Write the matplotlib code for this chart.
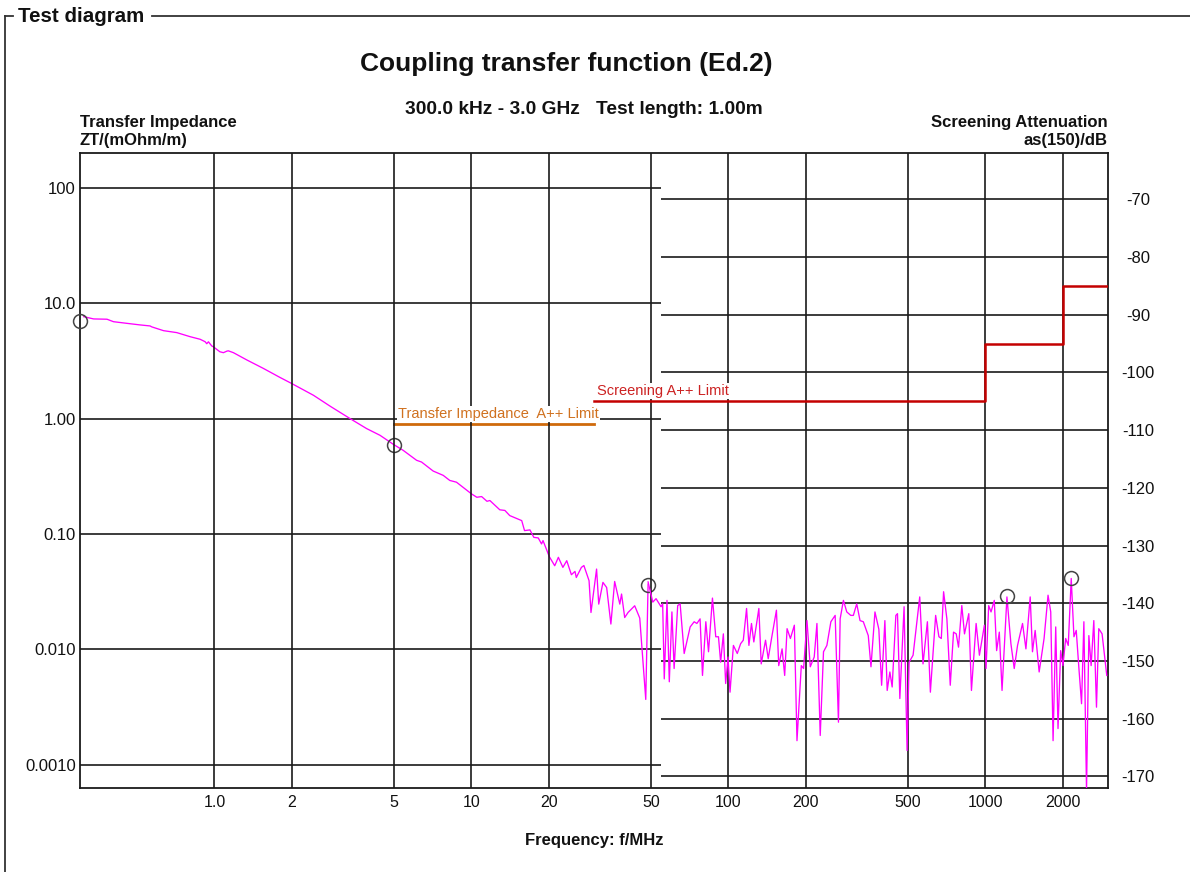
import matplotlib
matplotlib.use('Agg')
import matplotlib.pyplot as plt
from matplotlib.lines import Line2D
from matplotlib.ticker import NullLocator

plt.rcParams['font.family'] = ['Liberation Sans', 'DejaVu Sans']

# ---------------- data ----------------
# Transfer impedance (mOhm/m), low-frequency part (left log axis)
zt_freq = [0.31, 0.339, 0.382, 0.405, 0.456, 0.514, 0.562, 0.571, 0.634, 0.714,
           0.804, 0.880, 0.920, 0.934, 0.948, 0.977, 0.99, 1.05, 1.084, 1.12,
           1.133, 1.186, 1.34, 1.55, 1.80, 2.00, 2.43, 2.82, 3.37, 3.91,
           4.41, 4.97, 5.43, 6.12, 6.40, 7.10, 7.77, 8.24, 8.75, 10.0,
           10.5, 10.96, 11.5, 11.8, 12.9, 13.5, 14.1, 15.7, 16.1, 16.9,
           17.5, 18.2, 18.75, 19.0, 20.1, 21.1, 21.8, 22.7, 23.5, 24.5,
           25.3, 25.6, 26.8, 27.4, 28.7, 29.2, 30.7, 31.3, 32.5, 33.6,
           34.9, 36.1, 37.8, 38.4, 39.5, 40.7, 43.2, 45.2, 47.7, 48.7]
zt_vals = [7.63, 7.29, 7.25, 6.90, 6.68, 6.47, 6.34, 6.22, 5.77, 5.55,
           5.12, 4.86, 4.63, 4.45, 4.62, 4.25, 4.19, 3.79, 3.72, 3.84,
           3.86, 3.72, 3.21, 2.72, 2.27, 2.01, 1.59, 1.28, 1.00, 0.819,
           0.716, 0.598, 0.530, 0.435, 0.420, 0.351, 0.322, 0.291, 0.281, 0.223,
           0.208, 0.211, 0.192, 0.195, 0.162, 0.160, 0.1444, 0.1306, 0.107, 0.1085,
           0.0935, 0.0925, 0.082, 0.0877, 0.0637, 0.0531, 0.0628, 0.0514, 0.0587, 0.0444,
           0.0474, 0.042, 0.0514, 0.0533, 0.0394, 0.0209, 0.0497, 0.0247, 0.0381, 0.0344,
           0.0166, 0.0388, 0.0247, 0.0302, 0.0189, 0.0209, 0.0239, 0.0187, 0.00369, 0.0368]

# Screening attenuation (dB), high-frequency part (right linear axis)
as_freq = [48.7, 50.8, 52.3, 54.7, 55.5, 56.3, 57.7, 58.9, 60.3, 61.5,
           63.5, 64.9, 67.3, 71.0, 73.6, 75.4, 77.6, 79.3, 81.7, 83.7,
           86.7, 89.3, 91.5, 93.3, 95.6, 97.6, 99.7, 101.5, 104.6, 108.3,
           111.6, 114.3, 117.7, 120.2, 123.0, 125.6, 131.4, 134.2, 139.5, 142.9,
           147.2, 153.8, 157.0, 161.8, 165.6, 169.2, 174.3, 180.6, 184.9, 192.2,
           196.2, 202.2, 208.3, 215.8, 221.1, 227.7, 234.5, 241.7, 250.5, 260.3,
           268.1, 272.2, 280.3, 288.9, 299.4, 306.4, 315.8, 325.3, 335.0, 350.2,
           358.8, 371.8, 385.0, 394.7, 406.4, 414.9, 425.0, 433.8, 448.4, 455.0,
           464.7, 482.7, 495.8, 504.9, 523.2, 555.3, 571.9, 594.8, 610.9, 640.4,
           659.5, 673.8, 687.7, 708.3, 730.0, 751.8, 770.2, 786.1, 809.6, 829.3,
           861.8, 882.7, 920.4, 948.0, 991.1, 1006, 1030, 1052, 1083, 1106,
           1133, 1161, 1213, 1257, 1295, 1334, 1395, 1438, 1494, 1525,
           1562, 1619, 1692, 1753, 1796, 1834, 1878, 1917, 1963, 2004,
           2053, 2101, 2158, 2211, 2257, 2312, 2367, 2417, 2475, 2527,
           2579, 2642, 2706, 2762, 2845, 2967]
as_vals = [-136.3, -139.8, -139.2, -140.6, -140.1, -153.1, -139.5, -153.6, -141.5, -151.3,
           -140.4, -140.1, -148.7, -144.1, -143.2, -143.5, -142.7, -152.5, -143.2, -148.4,
           -139.1, -145.8, -145.8, -150.2, -145.3, -153.9, -149.3, -155.4, -147.3, -148.7,
           -147.0, -146.4, -140.9, -147.3, -143.5, -146.7, -140.9, -150.5, -146.4, -149.6,
           -146.1, -141.2, -150.8, -147.9, -152.5, -144.4, -146.1, -143.8, -163.8, -150.8,
           -151.3, -143.0, -151.0, -149.3, -143.5, -162.9, -148.4, -147.3, -143.2, -142.1,
           -160.6, -142.7, -139.5, -141.5, -142.1, -142.1, -140.1, -143.0, -143.2, -145.6,
           -151.0, -141.5, -144.5, -154.2, -143.0, -155.1, -151.9, -154.5, -142.1, -141.8,
           -156.5, -140.6, -165.5, -150.2, -149.0, -138.9, -150.5, -143.2, -155.4, -142.1,
           -145.8, -146.1, -138.0, -142.7, -154.2, -145.0, -145.3, -147.6, -140.4, -145.3,
           -141.8, -155.1, -143.5, -149.0, -143.8, -151.3, -140.4, -141.5, -139.5, -148.2,
           -145.0, -155.1, -138.9, -147.0, -151.3, -147.3, -143.5, -147.9, -138.9, -148.4,
           -144.7, -151.9, -146.1, -138.6, -141.5, -163.8, -144.1, -161.7, -148.2, -150.8,
           -146.1, -147.3, -135.7, -145.8, -144.7, -151.3, -157.4, -143.2, -172.5, -145.6,
           -150.8, -143.0, -158.0, -144.4, -145.3, -152.5]

# limits
zt_limit_freq = [5, 30]
zt_limit_val = [0.89, 0.89]
as_limit_freq = [30, 1000, 2000, 3000]
as_limit_val = [-105, -95, -85, -85]

# circle markers
zt_marker_freq = [0.3, 5.0, 48.7]
zt_marker_val = [7.05, 0.586, 0.036]
as_marker_freq = [1211, 2156]
as_marker_val = [-138.7, -135.6]

# ticks
x_ticks = [1, 2, 5, 10, 20, 50, 100, 200, 500, 1000, 2000]
x_tick_labels = ['1.0', '2', '5', '10', '20', '50', '100', '200', '500', '1000', '2000']
zt_ticks = [100, 10, 1, 0.1, 0.01, 0.001]
zt_tick_labels = ['100', '10.0', '1.00', '0.10', '0.010', '0.0010']
as_ticks = [-70, -80, -90, -100, -110, -120, -130, -140, -150, -160, -170]
as_tick_labels = ['-70', '-80', '-90', '-100', '-110', '-120', '-130', '-140', '-150', '-160', '-170']
grid_split_freq = 54.6

# ---------------- figure ----------------
W, H = 1190, 872
fig = plt.figure(figsize=(W / 100, H / 100), dpi=100)


def fx(px):
    return px / W


def fy(py):
    return 1 - py / H


ax = fig.add_axes([fx(80), fy(788), fx(1108) - fx(80), fy(153) - fy(788)])
ax.set_xscale('log')
ax.set_yscale('log')
ax.set_xlim(0.3, 3000)
ax.set_ylim(10 ** -3.2, 10 ** 2.3)
ax2 = ax.twinx()
ax2.set_ylim(-172, -62)

grid_kw = dict(color='#1a1a1a', lw=1.2)
# grids
ax.hlines(zt_ticks, 0.3, grid_split_freq, zorder=1, **grid_kw)
ax2.hlines(as_ticks, grid_split_freq, 3000, zorder=1, **grid_kw)
for xt in x_ticks:
    ax2.axvline(xt, zorder=1, **grid_kw)

# curves
ax.plot(zt_freq, zt_vals, color='#ff00ff', lw=0.95, zorder=3)
ax2.plot(as_freq, as_vals, color='#ff00ff', lw=0.95, zorder=3)

# limits
ax.plot(zt_limit_freq, zt_limit_val, color='#cf6a0c', lw=2.0, zorder=4)
ax2.plot(as_limit_freq, as_limit_val, color='#c40000', lw=1.8, drawstyle='steps-post', zorder=4)
bbox_w = dict(boxstyle='square,pad=0.08', fc='white', ec='none')
ax2.annotate('Transfer Impedance  A++ Limit', xy=(zt_limit_freq[0], zt_limit_val[0]),
             xycoords=ax.transData,
             xytext=(3, 2.5), textcoords='offset points', fontsize=10.5,
             color='#d0711f', ha='left', va='bottom', zorder=5, bbox=bbox_w)
ax2.annotate('Screening A++ Limit', xy=(as_limit_freq[0], as_limit_val[0]),
             xytext=(2.5, 2.5), textcoords='offset points', fontsize=10.5,
             color='#cc2222', ha='left', va='bottom', zorder=5, bbox=bbox_w)

# markers
ax.plot(zt_marker_freq, zt_marker_val, 'o', mfc='none', mec='#444444', ms=10, mew=1.1,
        zorder=6, clip_on=False)
ax2.plot(as_marker_freq, as_marker_val, 'o', mfc='none', mec='#444444', ms=10, mew=1.1,
         zorder=6, clip_on=False)

# ticks
ax.set_xticks(x_ticks, x_tick_labels)
ax.set_yticks(zt_ticks, zt_tick_labels)
ax.xaxis.set_minor_locator(NullLocator())
ax.yaxis.set_minor_locator(NullLocator())
ax2.set_yticks(as_ticks, as_tick_labels, ha='center')
ax.tick_params(axis='x', length=0, pad=5, labelsize=11.5, colors='#111111')
ax.tick_params(axis='y', length=0, pad=3, labelsize=12, colors='#111111')
ax2.tick_params(axis='y', length=0, pad=21.5, labelsize=12, colors='#111111')

for sp in ax.spines.values():
    sp.set_linewidth(1.3)
    sp.set_color('#1a1a1a')
for sp in ax2.spines.values():
    sp.set_visible(False)

# texts
txt = '#111111'
fig.text(fx(566), fy(64), 'Coupling transfer function (Ed.2)', ha='center', va='center',
         fontsize=19, fontweight='bold', color=txt)
fig.text(fx(584), fy(110), '300.0 kHz - 3.0 GHz   Test length: 1.00m', ha='center', va='center',
         fontsize=13.8, fontweight='bold', color=txt)
fig.text(fx(80), fy(122), 'Transfer Impedance', ha='left', va='center',
         fontsize=12, fontweight='bold', color=txt)
fig.text(fx(80), fy(141), 'ZT/(mOhm/m)', ha='left', va='center',
         fontsize=12, fontweight='bold', color=txt)
fig.text(fx(1108), fy(122), 'Screening Attenuation', ha='right', va='center',
         fontsize=12, fontweight='bold', color=txt)
fig.text(fx(1108), fy(141), 'as(150)/dB', ha='right', va='center',
         fontsize=12, fontweight='bold', color=txt)
fig.text(fx(594), fy(840), 'Frequency: f/MHz', ha='center', va='center',
         fontsize=12, fontweight='bold', color=txt)

# group box
box_kw = dict(transform=fig.transFigure, color='#333333', lw=1.3)
fig.add_artist(Line2D([fx(4.5), fx(4.5)], [fy(16), fy(900)], **box_kw))
fig.add_artist(Line2D([fx(4.5), fx(12.5)], [fy(16), fy(16)], **box_kw))
fig.add_artist(Line2D([fx(152), fx(1195)], [fy(16), fy(16)], **box_kw))
fig.text(fx(18), fy(17), 'Test diagram', ha='left', va='center',
         fontsize=14.8, fontweight='bold', color=txt)

fig.savefig('out.png', dpi=100)
